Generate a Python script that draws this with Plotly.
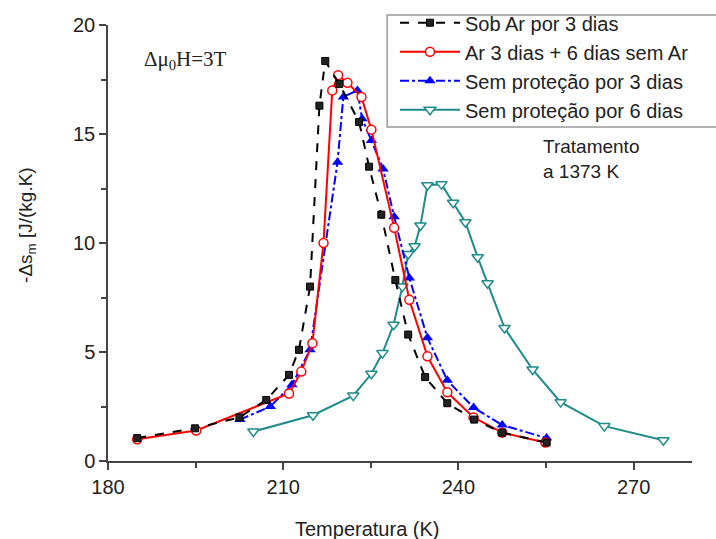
import plotly.graph_objects as go

# Data
x_ar3 = [185.0, 194.9, 202.5, 207.1, 211.0, 212.7, 214.6, 216.2, 217.2, 219.6, 223.0, 224.7, 226.8, 229.2, 231.4, 234.3, 238.1, 242.7, 247.5, 255.1]
y_ar3 = [1.05, 1.5, 2.0, 2.8, 3.95, 5.1, 8.0, 16.3, 18.35, 17.3, 15.55, 13.5, 11.3, 8.3, 5.8, 3.85, 2.65, 1.9, 1.3, 0.85]

x_ar3_6 = [185.0, 195.1, 211.0, 213.1, 215.0, 216.9, 218.4, 219.4, 221.0, 223.4, 225.1, 229.0, 231.6, 234.7, 238.1, 242.6, 247.5, 254.9]
y_ar3_6 = [1.0, 1.4, 3.1, 4.1, 5.4, 10.0, 17.0, 17.7, 17.35, 16.7, 15.2, 10.7, 7.4, 4.8, 3.15, 2.0, 1.3, 0.85]

x_sp3 = [202.6, 207.8, 211.5, 214.6, 219.3, 220.3, 222.7, 223.5, 225.1, 227.1, 229.0, 231.6, 234.7, 238.1, 242.6, 247.5, 255.1]
y_sp3 = [1.9, 2.5, 3.5, 5.1, 13.7, 16.7, 17.0, 15.7, 14.7, 13.4, 11.2, 8.4, 5.65, 3.7, 2.45, 1.65, 1.05]

x_sp6 = [204.9, 215.1, 222.0, 225.1, 227.0, 228.9, 230.4, 231.4, 232.5, 233.5, 234.7, 237.1, 239.1, 241.2, 243.3, 245.0, 247.9, 252.7, 257.5, 265.0, 275.1]
y_sp6 = [1.35, 2.1, 3.0, 4.0, 4.95, 6.25, 8.0, 9.5, 9.85, 10.8, 12.65, 12.7, 11.85, 10.95, 9.35, 8.15, 6.1, 4.2, 2.7, 1.6, 0.95]

names = ["Sob Ar por 3 dias", "Ar 3 dias + 6 dias sem Ar",
         "Sem proteção por 3 dias", "Sem proteção por 6 dias"]

x_ticks = [180, 210, 240, 270]
y_ticks = [0, 5, 10, 15, 20]

TEAL = "#1f8c8a"
FONT = "Liberation Sans, Arial"
fig = go.Figure()

fig.add_trace(go.Scatter(
    x=x_sp6, y=y_sp6, mode="lines+markers", name=names[3], legendrank=4,
    line=dict(color=TEAL, width=2),
    marker=dict(symbol="triangle-down", size=10, color="white",
                line=dict(color=TEAL, width=1.5))))
fig.add_trace(go.Scatter(
    x=x_sp3, y=y_sp3, mode="lines+markers", name=names[2], legendrank=3,
    line=dict(color="#0000ff", width=2, dash="dashdot"),
    marker=dict(symbol="triangle-up", size=10, color="#0000ff")))
fig.add_trace(go.Scatter(
    x=x_ar3_6, y=y_ar3_6, mode="lines+markers", name=names[1], legendrank=2,
    line=dict(color="#ff0000", width=2),
    marker=dict(symbol="circle", size=9, color="white",
                line=dict(color="#ff0000", width=1.5))))
fig.add_trace(go.Scatter(
    x=x_ar3, y=y_ar3, mode="lines+markers", name=names[0], legendrank=1,
    line=dict(color="black", width=2, dash="dash"),
    marker=dict(symbol="square", size=7, color="#222",
                line=dict(color="black", width=1))))

AX = "#444"
fig.update_xaxes(range=[180, 280], tickvals=x_ticks, ticks="outside", ticklen=7,
                 tickwidth=1.5, tickcolor=AX, showline=True, linecolor=AX, linewidth=1.5,
                 showgrid=False, zeroline=False,
                 tickfont=dict(family=FONT, size=20, color="#222"),
                 minor=dict(tickvals=[195, 225, 255], ticks="outside", ticklen=5,
                            tickwidth=1.5, tickcolor=AX))
fig.update_yaxes(range=[0, 20], tickvals=y_ticks, ticks="outside", ticklen=7,
                 tickwidth=1.5, tickcolor=AX, showline=True, linecolor=AX, linewidth=1.5,
                 showgrid=False, zeroline=False,
                 tickfont=dict(family=FONT, size=20, color="#222"),
                 minor=dict(tickvals=[2.5, 7.5, 12.5, 17.5], ticks="outside", ticklen=5,
                            tickwidth=1.5, tickcolor=AX))

fig.add_shape(type="rect", xref="paper", yref="paper", x0=0.478, x1=1.2,
              y0=0.766, y1=1.023, line=dict(color="#999", width=1.5),
              fillcolor="white", layer="below")

fig.add_annotation(text="-Δs<sub>m</sub> [J/(kg.K)", textangle=-90, xref="paper", yref="paper",
                   x=-0.139, y=0.541, xanchor="center", yanchor="middle", showarrow=False,
                   font=dict(family=FONT, size=19, color="#222"))
fig.add_annotation(text="Temperatura (K)", xref="paper", yref="paper",
                   x=0.4435, y=-0.156, xanchor="center", yanchor="middle", showarrow=False,
                   font=dict(family=FONT, size=20, color="#222"))
fig.add_annotation(text="Δμ<sub>0</sub>H=3T", xref="paper", yref="paper",
                   x=0.058, y=0.955, xanchor="left", yanchor="top", showarrow=False,
                   font=dict(family="Liberation Serif, Times New Roman", size=21, color="#222"))
fig.add_annotation(text="Tratamento<br>a 1373 K", xref="paper", yref="paper",
                   x=0.7414, y=0.6927, xanchor="left", yanchor="middle", align="left",
                   showarrow=False,
                   font=dict(family=FONT, size=19, color="#222"))

fig.update_layout(
    width=716, height=539,
    margin=dict(l=108, r=24, t=25, b=78, autoexpand=False),
    plot_bgcolor="white", paper_bgcolor="white",
    legend=dict(x=0.4914, y=1.050, xanchor="left", yanchor="top",
                bgcolor="rgba(0,0,0,0)", borderwidth=0, itemwidth=60,
                tracegroupgap=0,
                font=dict(family=FONT, size=20, color="#222")),
)

fig.write_html("out.html")
